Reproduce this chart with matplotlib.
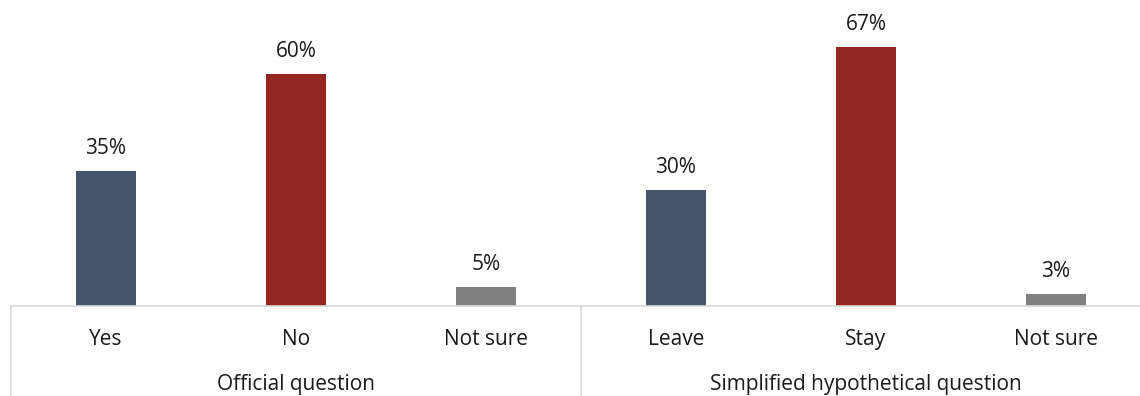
import matplotlib
matplotlib.use("Agg")
import matplotlib.pyplot as plt
import matplotlib.transforms as mtransforms

# survey answers, two question wordings
categories = ["Yes", "No", "Not sure", "Leave", "Stay", "Not sure"]
values = [35, 60, 5, 30, 67, 3]
groups = ["Official question", "Simplified hypothetical question"]
colors = ["#44546A", "#952722", "#808080", "#44546A", "#952722", "#808080"]

plt.rcParams["font.family"] = ["Open Sans", "DejaVu Sans"]
TEXT = "#1a1a1a"

fig = plt.figure(figsize=(11.4, 3.96), dpi=100)
ax = fig.add_axes([11 / 1140, 90 / 396, 1.0, 306 / 396])

x = list(range(len(categories)))
bars = ax.bar(x, values, width=0.316, color=colors)

for xi, v in zip(x, values):
    ax.annotate(f"{v}%", (xi, v), xytext=(0, 16.3), textcoords="offset points",
                ha="center", va="center", fontsize=15, color=TEXT)

ax.set_xlim(-0.5, 5.5)
ax.set_ylim(0, 79.3)
ax.set_yticks([])
ax.set_xticks([])
for side in ["left", "right", "top"]:
    ax.spines[side].set_visible(False)
ax.spines["bottom"].set_color("#D9D9D9")
ax.spines["bottom"].set_linewidth(1.2)

trans = mtransforms.blended_transform_factory(ax.transData, ax.transAxes)

# category and group labels under the axis
for xi, name in zip(x, categories):
    ax.text(xi, -0.11, name, transform=trans, ha="center", va="center",
            fontsize=15, color=TEXT)
for gi, name in enumerate(groups):
    ax.text(gi * 3 + 1, -0.258, name, transform=trans, ha="center", va="center",
            fontsize=15, color=TEXT)

# group separators
for xs in [-0.5, 2.5, 5.5]:
    ax.plot([xs, xs], [0, -0.32], transform=trans, color="#D9D9D9",
            linewidth=1.2, clip_on=False)

fig.savefig("out.png", dpi=100)
